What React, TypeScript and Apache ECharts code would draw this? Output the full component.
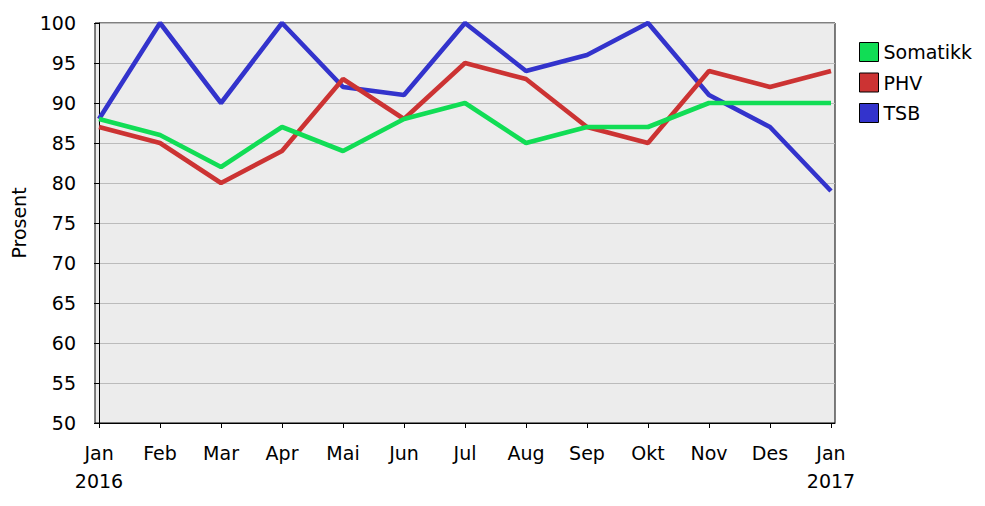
import React, { useEffect, useRef } from "react";
import * as echarts from "echarts";

const months = ["Jan\n2016", "Feb", "Mar", "Apr", "Mai", "Jun", "Jul", "Aug", "Sep", "Okt", "Nov", "Des", "Jan\n2017"];
const somatikk = [88, 86, 82, 87, 84, 88, 90, 85, 87, 87, 90, 90, 90];
const phv = [87, 85, 80, 84, 93, 88, 95, 93, 87, 85, 94, 92, 94];
const tsb = [88, 100, 90, 100, 92, 91, 100, 94, 96, 100, 91, 87, 79];

const FONT = "DejaVu Sans";

export default function App() {
  const ref = useRef<HTMLDivElement>(null);
  useEffect(() => {
    if (!ref.current) return;
    const chart = echarts.init(ref.current, null, { renderer: "svg" });
    const idx = months.map((_, i) => i);
    const toPts = (arr: number[]) => arr.map((v, i) => [i, v]);
    chart.setOption({
      animation: false,
      textStyle: { fontFamily: FONT },
      grid: {
        left: 95,
        right: 150,
        top: 23,
        bottom: 83,
        containLabel: false,
        outerBoundsMode: "none",
        show: true,
        backgroundColor: "#ececec",
        borderColor: "#000",
        borderWidth: 1,
      },
      legend: {
        orient: "vertical",
        left: 859,
        top: 42,
        padding: 0,
        itemGap: 10.5,
        itemWidth: 19,
        itemHeight: 19,
        icon: "rect",
        itemStyle: { borderColor: "#000", borderWidth: 1 },
        textStyle: { fontSize: 19, color: "#000", fontFamily: FONT },
        data: ["Somatikk", "PHV", "TSB"],
      },
      xAxis: {
        type: "value",
        min: -0.066,
        max: 12.066,
        splitLine: { show: false },
        axisLine: { show: true, onZero: false, lineStyle: { color: "#000", width: 1 } },
        axisTick: { show: true, length: 5, customValues: idx, lineStyle: { color: "#000" } },
        axisLabel: {
          customValues: idx,
          formatter: (v: number) => months[Math.round(v)],
          fontSize: 19,
          lineHeight: 28,
          margin: 16,
          color: "#000",
          fontFamily: FONT,
        },
      },
      yAxis: {
        type: "value",
        min: 50,
        max: 100,
        interval: 5,
        name: "Prosent",
        nameLocation: "middle",
        nameRotate: 90,
        nameGap: 67,
        nameTextStyle: { fontSize: 19, color: "#000", fontFamily: FONT },
        axisLine: { show: true, lineStyle: { color: "#000", width: 1 } },
        axisTick: { show: true, length: 5, lineStyle: { color: "#000" } },
        axisLabel: { fontSize: 19, margin: 19, color: "#000", fontFamily: FONT },
        splitLine: { show: true, lineStyle: { color: "#bbbbbb", width: 1 } },
      },
      series: [
        {
          name: "TSB",
          type: "line",
          data: toPts(tsb),
          showSymbol: false,
          symbol: "none",
          color: "#3333cc",
          lineStyle: { color: "#3333cc", width: 4.6 },
          z: 2,
        },
        {
          name: "PHV",
          type: "line",
          data: toPts(phv),
          showSymbol: false,
          symbol: "none",
          color: "#cc3333",
          lineStyle: { color: "#cc3333", width: 4.6 },
          z: 3,
        },
        {
          name: "Somatikk",
          type: "line",
          data: toPts(somatikk),
          showSymbol: false,
          symbol: "none",
          color: "#11dd55",
          lineStyle: { color: "#11dd55", width: 4.6 },
          z: 4,
        },
      ],
    });
    return () => chart.dispose();
  }, []);
  return (
    <div
      ref={ref}
      style={{ position: "fixed", left: 0, top: 0, width: 985, height: 506, background: "#fff" }}
    />
  );
}
